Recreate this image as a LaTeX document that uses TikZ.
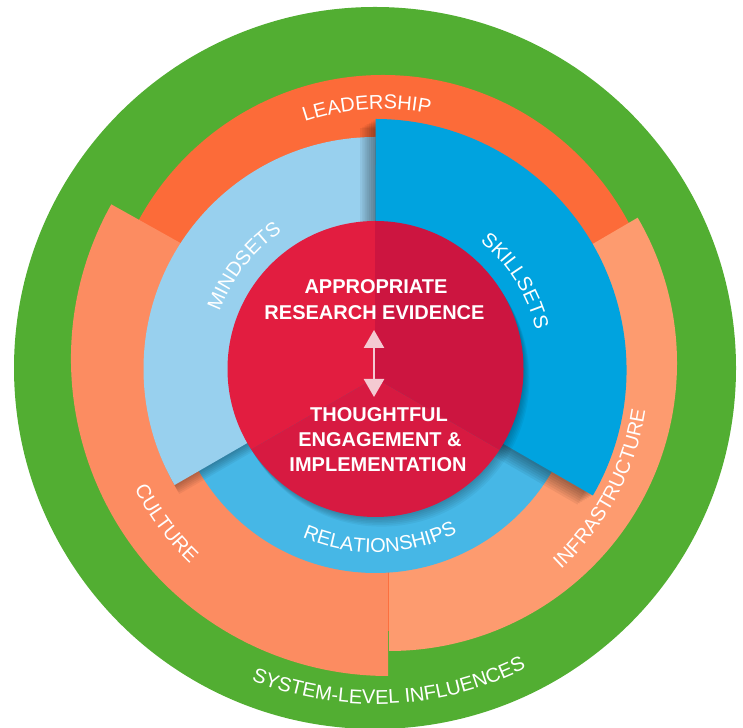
\documentclass[tikz,border=0pt]{standalone}
\usepackage{fontspec}
\setmainfont{Liberation Sans}
\usetikzlibrary{decorations.text,arrows.meta,calc}
\definecolor{cgreen}{HTML}{52AE32}
\definecolor{clead}{HTML}{FC6B39}
\definecolor{cculture}{HTML}{FC8C61}
\definecolor{cinfra}{HTML}{FD9B6F}
\definecolor{crel}{HTML}{46B7E6}
\definecolor{cmind}{HTML}{98D0EE}
\definecolor{cskill}{HTML}{00A3DF}
\definecolor{credL}{HTML}{E21D40}
\definecolor{credR}{HTML}{CC1540}
\definecolor{credB}{HTML}{D71A41}
\definecolor{carrow}{HTML}{F4CAD2}
\newcommand\ringfont{\fontsize{20}{24}\selectfont}
\newcommand\corefont{\fontsize{20}{24}\selectfont\bfseries}
\begin{document}
\begin{tikzpicture}[x=1pt,y=1pt,
  ringlabel/.style={decorate, decoration={text along path, text align=center, text color=white, text={|\ringfont|#1}}},
  coretext/.style={text=white, font=\corefont, anchor=base, inner sep=0pt},
  shade/.style={fill=black, fill opacity=#1}]
\useasboundingbox (0,0) rectangle (743,727);
\coordinate (O) at (375.5,358);
\coordinate (C1) at (388,368);
\coordinate (C2) at (389,364);
\coordinate (C3) at (383,374);
\coordinate (G) at (375,359);
% outer rings
\fill[cgreen] (G) circle (361);
\fill[clead] (C3) circle (278);
\fill[cculture] (388,368) -- ++(150.8:317) arc[start angle=150.8, end angle=270, radius=317] -- cycle;
\fill[cinfra] (389,364) -- ++(-90:288) arc[start angle=-90, end angle=30.3, radius=288] -- cycle;
% relationships
\fill[crel] (O) circle (204);
% mindsets
\foreach \k in {1,...,6} {
  \fill[shade=0.05] (375.5+0.8*\k,358-1.5*\k) -- ++(90:232) arc[start angle=90, end angle=210, radius=232] -- cycle;
}
\fill[cmind] (375.5,358) -- ++(90:232) arc[start angle=90, end angle=210, radius=232] -- cycle;
% skillsets
\foreach \k in {1,...,7} {
  \fill[shade=0.06] (375.5-2.2*\k,357-1.3*\k) -- ++(-30:251) arc[start angle=-30, end angle=90, radius=251] -- cycle;
}
\fill[cskill] (375.5,357) -- ++(-30:251) arc[start angle=-30, end angle=90, radius=251] -- cycle;
% core
\foreach \k in {1,...,6} {
  \fill[shade=0.045] (375.5+1.0*\k,358-1.6*\k) circle (148);
}
\begin{scope}
  \clip (375.5,358) circle (148);
  \fill[credL] (375,349) -- ++(90:300) arc[start angle=90, end angle=210, radius=300] -- cycle;
  \fill[credR] (375,349) -- ++(-30:300) arc[start angle=-30, end angle=90, radius=300] -- cycle;
  \fill[credB] (375,349) -- ++(210:300) arc[start angle=210, end angle=330, radius=300] -- cycle;
\end{scope}
% core texts
\node[coretext] (t1) at (376,433.7) {APPROPRIATE};
\node[coretext] (t2) at (374.5,407.7) {RESEARCH EVIDENCE};
\node[coretext] (t3) at (379,305.3) {THOUGHTFUL};
\node[coretext] (t4) at (380,280.3) {ENGAGEMENT \&};
\node[coretext] (t5) at (378,255.3) {IMPLEMENTATION};
\coordinate (aT) at (374,397);
\coordinate (aB) at (374,330);
\draw[carrow, line width=2.6pt, {Triangle[width=20pt,length=18pt]}-{Triangle[width=20pt,length=18pt]}] (aT) -- (aB);
% ring labels
\path[ringlabel=LEADERSHIP] ($(C3)+(163.8:244)$) arc[start angle=163.8, end angle=23.8, radius=244];
\path[ringlabel=MINDSETS] ($(O)+(202:166)$) arc[start angle=202, end angle=82, radius=166];
\path[ringlabel=SKILLSETS] ($(O)+(92.2:165)$) arc[start angle=92.2, end angle=-27.8, radius=165];
\path[ringlabel=RELATIONSHIPS] ($(O)+(211.5:183.5)$) arc[start angle=211.5, end angle=331.5, radius=183.5];
\path[ringlabel=CULTURE] ($(O)+(156.4:269)$) arc[start angle=156.4, end angle=276.4, radius=269];
\path[ringlabel=INFRASTRUCTURE] ($(O)+(-87.9:273)$) arc[start angle=-87.9, end angle=32.1, radius=273];
\path[ringlabel=SYSTEM-LEVEL INFLUENCES] ($(G)+(202.6:336)$) arc[start angle=202.6, end angle=342.6, radius=336];
\end{tikzpicture}
\end{document}
